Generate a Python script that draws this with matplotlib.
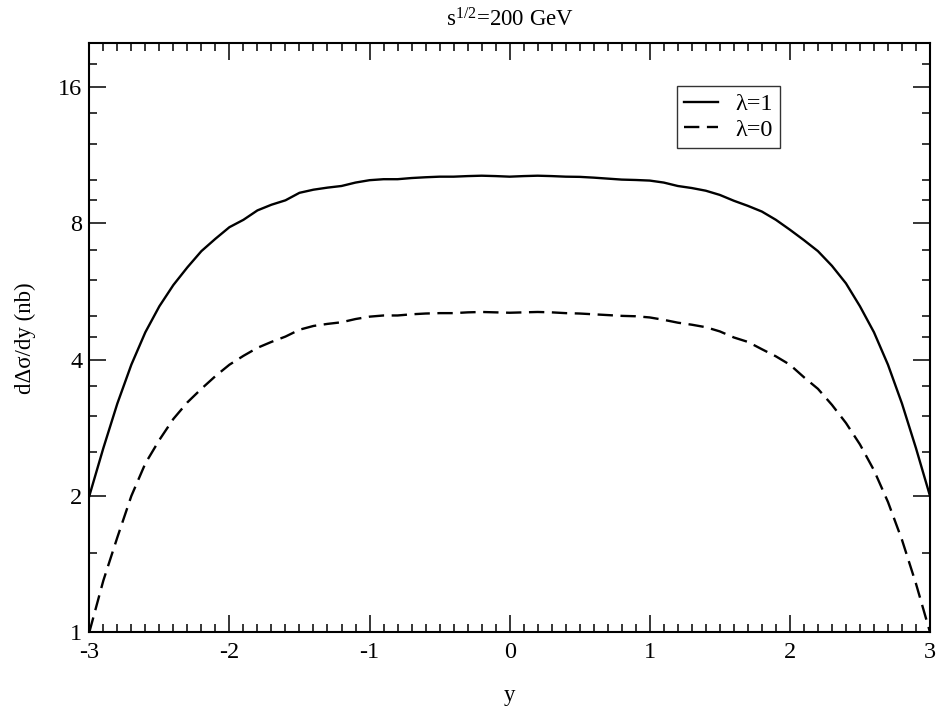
import matplotlib
matplotlib.use('Agg')
import matplotlib.pyplot as plt
from matplotlib.ticker import NullFormatter

plt.rcParams['font.family'] = ['Liberation Serif', 'DejaVu Serif']
plt.rcParams['mathtext.fontset'] = 'custom'
plt.rcParams['mathtext.rm'] = 'Liberation Serif'
plt.rcParams['mathtext.it'] = 'Liberation Serif:italic'

# rapidity grid and the two polarized cross sections (nb)
rapidity = [round(-3.0 + 0.1 * i, 1) for i in range(61)]

sigma_lam1 = [
    2.00, 2.55, 3.20, 3.90, 4.60, 5.25, 5.85, 6.40, 6.95, 7.40,
    7.85, 8.15, 8.55, 8.80, 9.00, 9.35, 9.50, 9.60, 9.68, 9.85,
    9.97, 10.02, 10.02, 10.08, 10.12, 10.15, 10.15, 10.18, 10.20, 10.18,
    10.15, 10.18, 10.20, 10.18, 10.15, 10.14, 10.10, 10.05, 10.00, 9.98,
    9.95, 9.85, 9.68, 9.58, 9.45, 9.25, 8.98, 8.75, 8.50, 8.15,
    7.75, 7.35, 6.95, 6.45, 5.90, 5.25, 4.60, 3.90, 3.20, 2.55,
    2.00,
]

sigma_lam0 = [
    1.00, 1.30, 1.62, 2.00, 2.36, 2.66, 2.96, 3.22, 3.45, 3.68,
    3.90, 4.08, 4.25, 4.38, 4.50, 4.66, 4.75, 4.80, 4.84, 4.92,
    4.98, 5.01, 5.01, 5.04, 5.06, 5.07, 5.07, 5.09, 5.10, 5.09,
    5.08, 5.09, 5.10, 5.09, 5.07, 5.06, 5.04, 5.02, 5.00, 4.99,
    4.96, 4.90, 4.83, 4.78, 4.72, 4.62, 4.48, 4.38, 4.22, 4.07,
    3.90, 3.66, 3.45, 3.18, 2.90, 2.60, 2.28, 1.94, 1.60, 1.28,
    1.00,
]

y_major = [1, 2, 4, 8, 16]
y_minor = [1.5, 2.5, 3, 3.5, 4.5, 5, 6, 7, 9, 10, 12, 14, 18]
x_major = [-3, -2, -1, 0, 1, 2, 3]
x_minor = [round(-3.0 + 0.1 * i, 1) for i in range(61)]

fig = plt.figure(figsize=(9.36, 7.15), dpi=100)
ax = fig.add_axes([0.0954, 0.1157, 0.8982, 0.8237])

ax.plot(rapidity, sigma_lam1, color='black', lw=1.7, label='λ=1')
ax.plot(rapidity, sigma_lam0, color='black', lw=1.7, dashes=(6.5, 3.2), label='λ=0')

ax.set_yscale('log', base=2)
ax.set_xlim(-3, 3)
ax.set_ylim(1, 20)

ax.set_xticks(x_major, labels=[str(v) for v in x_major])
ax.set_xticks(x_minor, minor=True)
ax.set_yticks(y_major, labels=[str(v) for v in y_major])
ax.set_yticks(y_minor, minor=True)
ax.yaxis.set_minor_formatter(NullFormatter())

ax.tick_params(which='both', direction='in', top=True, right=True, width=1.1, labelsize=17.5)
ax.tick_params(which='major', length=12)
ax.tick_params(which='minor', length=6)
ax.tick_params(axis='x', which='major', pad=7)
ax.tick_params(axis='y', which='major', pad=5)
for sp in ax.spines.values():
    sp.set_linewidth(1.5)

ax.set_xlabel('y', fontsize=16.5, labelpad=16)
ax.set_ylabel('dΔσ/dy (nb)', fontsize=16.5, labelpad=16)
ax.set_title(r's$^{1/2}$=200 GeV', fontsize=16.5, pad=12)

leg = ax.legend(loc='upper left', bbox_to_anchor=(0.699, 0.9275), fontsize=17.5,
                frameon=True, fancybox=False, handlelength=1.4, handletextpad=0.7,
                borderpad=0.3, labelspacing=0.15, borderaxespad=0)
leg.get_frame().set_edgecolor('black')
leg.get_frame().set_linewidth(1.0)

fig.savefig('out.png', dpi=100)
